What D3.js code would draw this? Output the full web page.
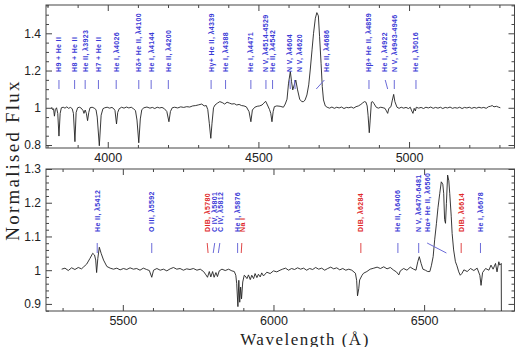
<!DOCTYPE html>
<html><head><meta charset="utf-8">
<script src="https://cdn.jsdelivr.net/npm/d3@7"></script>
<style>body{margin:0;background:#fff}svg{display:block}</style>
</head><body>
<svg id="c" width="520" height="347"></svg>
<script>
// ---------- DATA ----------
const topSpectrum = [[3814,1.003],[3817,0.99],[3820,0.995],[3823,0.955],[3826,0.99],[3830,1.0],[3834,0.97],[3838,0.848],[3842,0.97],[3846,1.0],[3852,1.003],[3858,0.998],[3864,1.005],[3870,0.997],[3876,1.002],[3882,0.995],[3886,0.97],[3891,0.818],[3895,0.975],[3900,1.0],[3906,1.003],[3912,0.998],[3918,0.985],[3921,0.97],[3925,0.988],[3929,0.97],[3933,0.931],[3937,0.975],[3941,1.0],[3948,1.003],[3955,0.998],[3961,0.99],[3965,0.95],[3972,0.796],[3978,0.96],[3984,0.995],[3990,1.0],[3998,1.003],[4006,0.998],[4014,1.002],[4020,0.995],[4024,0.985],[4029,0.913],[4033,0.975],[4038,0.995],[4046,1.003],[4054,0.998],[4062,1.004],[4070,0.999],[4078,1.003],[4086,0.994],[4092,0.985],[4097,0.934],[4103,0.812],[4108,0.94],[4113,0.99],[4120,1.0],[4130,1.004],[4140,0.998],[4148,1.002],[4156,0.996],[4164,1.003],[4172,0.999],[4180,1.002],[4188,0.995],[4196,0.98],[4203,0.925],[4208,0.98],[4214,1.0],[4222,1.003],[4232,0.999],[4242,1.005],[4252,1.002],[4262,1.006],[4272,1.004],[4282,1.01],[4292,1.012],[4302,1.016],[4312,1.02],[4320,1.01],[4327,1.012],[4332,0.99],[4337,0.917],[4342,0.836],[4346,0.917],[4351,1.0],[4356,1.015],[4364,1.025],[4372,1.033],[4380,1.028],[4388,1.02],[4396,1.03],[4404,1.025],[4412,1.02],[4420,1.022],[4428,1.015],[4436,1.018],[4444,1.012],[4452,1.01],[4460,1.005],[4469,0.979],[4475,0.925],[4480,0.988],[4488,1.003],[4496,1.008],[4504,1.01],[4512,1.015],[4518,1.025],[4524,1.035],[4530,1.015],[4537,0.99],[4541,0.97],[4545,0.925],[4549,0.98],[4553,1.006],[4561,1.01],[4572,1.008],[4583,1.003],[4589,1.02],[4595,1.046],[4600,1.132],[4606,1.195],[4610,1.14],[4614,1.096],[4619,1.123],[4624,1.149],[4630,1.096],[4637,1.046],[4644,1.033],[4650,1.033],[4655,1.042],[4661,1.069],[4667,1.123],[4672,1.203],[4678,1.311],[4683,1.40],[4689,1.481],[4694,1.511],[4699,1.494],[4703,1.382],[4708,1.239],[4712,1.114],[4716,1.042],[4722,1.010],[4728,1.003],[4736,0.998],[4744,1.004],[4752,0.997],[4760,1.003],[4768,0.999],[4776,1.004],[4784,0.996],[4792,1.002],[4800,1.0],[4808,1.004],[4816,0.998],[4824,1.006],[4832,1.01],[4840,1.018],[4846,1.026],[4852,1.033],[4857,1.03],[4861,1.01],[4864,0.96],[4868,0.866],[4871,0.934],[4875,1.03],[4879,1.033],[4883,1.024],[4891,1.003],[4898,0.998],[4906,1.003],[4914,1.0],[4920,0.997],[4925,0.983],[4929,0.970],[4933,0.997],[4940,1.006],[4944,1.037],[4949,1.072],[4953,1.033],[4960,1.003],[4967,0.997],[4974,1.003],[4982,0.998],[4990,1.002],[4998,0.996],[5004,1.003],[5009,0.983],[5013,0.970],[5017,0.997],[5021,0.983],[5024,1.003],[5032,0.998],[5040,1.002],[5048,0.996],[5056,1.003],[5064,0.999],[5072,1.004],[5080,0.997],[5088,1.002],[5096,0.998],[5104,1.003],[5112,0.996],[5120,1.002],[5128,0.999],[5136,1.004],[5144,0.997],[5152,1.001],[5160,0.998],[5168,1.003],[5176,0.996],[5184,1.002],[5192,0.999],[5200,1.003],[5208,0.997],[5216,1.002],[5224,0.998],[5232,1.003],[5240,0.999],[5248,1.002],[5256,0.997],[5264,1.006],[5270,1.008],[5276,1.012],[5282,1.005],[5290,1.008],[5296,1.004],[5303,1.0]];

const bottomSpectrum = [[5297,1.003],[5308,1.006],[5319,0.999],[5330,1.007],[5341,1.002],[5352,1.008],[5363,1.004],[5369,1.009],[5380,1.018],[5391,1.035],[5400,1.050],[5406,1.045],[5410,1.030],[5413,0.993],[5417,1.035],[5422,1.068],[5428,1.050],[5436,1.030],[5447,1.011],[5458,1.006],[5469,1.003],[5480,1.006],[5491,1.001],[5502,1.005],[5513,1.002],[5524,1.007],[5535,1.003],[5546,1.005],[5557,1.0],[5568,1.006],[5579,1.002],[5588,0.999],[5596,0.979],[5602,1.0],[5613,1.005],[5624,1.0],[5635,1.003],[5646,0.998],[5657,1.004],[5668,1.008],[5679,1.003],[5690,1.005],[5701,1.0],[5712,1.004],[5723,1.002],[5734,1.005],[5746,1.0],[5757,1.003],[5768,0.996],[5776,0.986],[5781,0.979],[5787,0.996],[5792,0.98],[5798,0.996],[5803,0.979],[5809,0.993],[5814,0.981],[5820,0.998],[5829,1.003],[5840,0.999],[5851,1.003],[5862,0.998],[5870,0.996],[5875,0.985],[5878,0.96],[5882,0.892],[5885,0.97],[5888,0.905],[5891,0.95],[5894,0.915],[5898,0.965],[5903,0.985],[5906,0.983],[5912,0.975],[5917,0.986],[5923,0.972],[5928,0.985],[5934,0.975],[5939,0.99],[5945,0.978],[5950,0.988],[5956,0.98],[5961,0.992],[5967,0.983],[5978,0.994],[5989,0.99],[6000,0.998],[6011,0.995],[6022,1.0],[6030,1.003],[6040,1.006],[6050,1.0],[6060,1.005],[6070,1.002],[6080,1.007],[6090,1.003],[6100,1.006],[6110,1.0],[6120,1.005],[6130,1.002],[6140,1.008],[6150,1.003],[6160,1.006],[6170,1.0],[6180,1.005],[6190,1.009],[6200,1.004],[6210,1.007],[6220,1.001],[6230,1.005],[6240,1.0],[6250,1.003],[6260,1.0],[6272,0.991],[6276,0.97],[6279,0.924],[6283,0.945],[6286,0.971],[6294,0.985],[6299,0.991],[6310,0.996],[6321,1.003],[6333,1.006],[6344,1.009],[6355,1.005],[6366,1.01],[6377,1.004],[6388,1.008],[6399,1.0],[6408,0.995],[6416,0.986],[6421,0.998],[6432,1.005],[6443,1.0],[6454,1.009],[6465,1.003],[6473,1.0],[6479,1.025],[6484,1.040],[6490,1.02],[6496,1.003],[6504,1.0],[6512,0.996],[6519,0.996],[6524,1.013],[6530,1.040],[6535,1.090],[6541,1.139],[6546,1.185],[6552,1.228],[6557,1.262],[6562,1.255],[6565,1.228],[6568,1.15],[6571,1.139],[6574,1.198],[6578,1.282],[6582,1.265],[6585,1.228],[6590,1.16],[6593,1.109],[6598,1.06],[6604,1.025],[6609,1.013],[6615,0.995],[6620,0.985],[6626,0.991],[6632,1.001],[6643,0.996],[6654,1.005],[6665,0.999],[6676,1.006],[6685,0.985],[6689,0.955],[6694,0.993],[6704,1.005],[6715,1.0],[6722,1.015],[6729,1.003],[6737,1.02],[6742,0.995],[6748,1.025],[6751,1.015],[6756,1.02],[6756.5,0.86]];

// line identifications: text, label wavelength, tick top / tick bottom wavelength, kind (b=blue, r=red)
const topLineNames = ["H9 + He II","H8 + He II","He II, λ3923","H7 + He II","He I, λ4026","Hδ+ He II, λ4100","He I, λ4144","He II, λ4200","Hγ+ He II, λ4339","He I, λ4388","He I, λ4471","N V, λ4514-4529","He II, λ4542","N V, λ4604","N V, λ4620","He II, λ4686","Hβ+ He II, λ4859","He I, λ4922","N V, λ4943-4946","He I, λ5016"];
const topLineLabelAt = [3838,3890,3925,3969,4028,4103,4144,4201,4343,4391,4475,4525,4547,4603,4635,4727,4867,4919,4951,5023];
const topLineTickTop = [3838,3890,3925,3969,4028,4103,4144,4201,4343,4391,4475,4525,4547,4604,4620,4719,4867,4921,4951,5023];
const topLineTickBot = [3838,3890,3925,3969,4028,4103,4144,4201,4343,4391,4475,4525,4547,4606,4622,4692,4867,4929,4951,5023];
const topLineKind = ["b","b","b","b","b","b","b","b","b","b","b","b","b","b","b","b","b","b","b","b"];

const botLineNames = ["He II, λ5412","O III, λ5592","DIB, λ5780","C IV, λ5801","C IV, λ5812","He I, λ5876","Na I","DIB, λ6284","He II, λ6406","N V, λ6470-6481","Hα+ He II, λ6560","DIB, λ6614","He I, λ6678"];
const botLineLabelAt = [5415,5596,5782,5803,5823,5881,5897,6290,6413,6482,6510,6623,6687];
const botLineTickTop = [5415,5596,5780,5805,5822,5881,5895,6290,6413,6482,6510,6623,6687];
const botLineTickBot = [5415,5596,5783,5800,5817,5881,5893,6290,6413,6482,6574,6623,6687];
const botLineKind = ["b","b","r","b","b","b","r","r","b","b","b","r","b"];

const topXTicks = [4000,4500,5000];
const botXTicks = [5500,6000,6500];
const topYTicks = [0.8,1.0,1.2,1.4];
const botYTicks = [0.9,1.0,1.1,1.2,1.3];
const xTitle = "Wavelength (Å)";
const yTitle = "Normalised Flux";

// ---------- DRAW ----------
const svg = d3.select("#c");
const L = 46, R = 514.5;
const colors = {b:"#3a3ad6", r:"#e02828"};
const tickColors = {b:"#6b6bd8", r:"#e04848"};
const fmtY = d => (Math.abs(d-1)<1e-9 ? "1" : d3.format(".1f")(d));
const fmtX = d3.format("d");

function panel(cfg){
  const x = d3.scaleLinear().domain(cfg.xDomain).range([L,R]);
  const y = d3.scaleLinear().domain(cfg.yDomain).range([cfg.y1,cfg.y0]);
  const g = svg.append("g");
  const id = "clip"+cfg.name;
  svg.append("clipPath").attr("id",id).append("rect")
    .attr("x",L).attr("y",cfg.y0).attr("width",R-L).attr("height",cfg.y1-cfg.y0);

  const xMinor = d3.range(Math.ceil(cfg.xDomain[0]/100)*100, cfg.xDomain[1], 100).filter(v=>v%500!==0);
  const yMinor = d3.range(Math.ceil(cfg.yDomain[0]/cfg.yMinor-1e-6)*cfg.yMinor, cfg.yDomain[1]+1e-9, cfg.yMinor)
                   .map(v=>+v.toFixed(3)).filter(v=>!cfg.yTicks.some(t=>Math.abs(t-v)<1e-6));
  const strip = s => s.call(a=>a.select(".domain").remove()).selectAll("line").attr("stroke","#444").attr("stroke-width",1);

  g.append("g").attr("transform",`translate(0,${cfg.y1})`).call(d3.axisBottom(x).tickValues(cfg.xTicks).tickSize(-6).tickFormat("")).call(strip);
  g.append("g").attr("transform",`translate(0,${cfg.y1})`).call(d3.axisBottom(x).tickValues(xMinor).tickSize(-3).tickFormat("")).call(strip);
  g.append("g").attr("transform",`translate(0,${cfg.y0})`).call(d3.axisTop(x).tickValues(cfg.xTicks).tickSize(-6).tickFormat("")).call(strip);
  g.append("g").attr("transform",`translate(0,${cfg.y0})`).call(d3.axisTop(x).tickValues(xMinor).tickSize(-3).tickFormat("")).call(strip);
  g.append("g").attr("transform",`translate(${L},0)`).call(d3.axisLeft(y).tickValues(cfg.yTicks).tickSize(-6).tickFormat("")).call(strip);
  g.append("g").attr("transform",`translate(${L},0)`).call(d3.axisLeft(y).tickValues(yMinor).tickSize(-3).tickFormat("")).call(strip);
  g.append("g").attr("transform",`translate(${R},0)`).call(d3.axisRight(y).tickValues(cfg.yTicks).tickSize(-6).tickFormat("")).call(strip);
  g.append("g").attr("transform",`translate(${R},0)`).call(d3.axisRight(y).tickValues(yMinor).tickSize(-3).tickFormat("")).call(strip);

  // tick labels
  const xl = g.append("g").attr("transform",`translate(0,${cfg.y1})`)
    .call(d3.axisBottom(x).tickValues(cfg.xTicks).tickSize(0).tickPadding(5.5).tickFormat(fmtX));
  xl.select(".domain").remove();
  xl.selectAll("text").attr("font-family","'Liberation Sans',Arial,sans-serif").attr("font-size",12.5).attr("fill","#222");
  const yl = g.append("g").attr("transform",`translate(${L},0)`)
    .call(d3.axisLeft(y).tickValues(cfg.yTicks).tickSize(0).tickPadding(5).tickFormat(fmtY));
  yl.select(".domain").remove();
  yl.selectAll("text").attr("font-family","'Liberation Sans',Arial,sans-serif").attr("font-size",12).attr("fill","#222");

  // frame
  g.append("rect").attr("x",L).attr("y",cfg.y0).attr("width",R-L).attr("height",cfg.y1-cfg.y0)
    .attr("fill","none").attr("stroke","#444").attr("stroke-width",1);

  // spectrum
  g.append("path").datum(cfg.spectrum).attr("clip-path",`url(#${id})`)
    .attr("d", d3.line().x(d=>x(d[0])).y(d=>y(d[1])))
    .attr("fill","none").attr("stroke","#222").attr("stroke-width",0.9).attr("stroke-linejoin","round");

  // line identifications
  const ids = cfg.names.map((n,i)=>({n, at:cfg.labelAt[i], t:cfg.tickTop[i], b:cfg.tickBot[i], k:cfg.kind[i]}));
  g.selectAll(".idt").data(ids).enter().append("line")
    .attr("x1",d=>x(d.t)).attr("y1",cfg.tickY0).attr("x2",d=>x(d.b)).attr("y2",cfg.tickY1)
    .attr("stroke",d=>tickColors[d.k]).attr("stroke-width",1);
  g.selectAll(".idl").data(ids).enter().append("text")
    .attr("transform",d=>`translate(${x(d.at)},${cfg.textY}) rotate(-90)`)
    .attr("dy","0.35em")
    .attr("font-family","'Liberation Sans',Arial,sans-serif").attr("font-size",7)
    .attr("font-weight","bold").attr("letter-spacing",0.35)
    .attr("fill",d=>colors[d.k]).text(d=>d.n);
}

panel({name:"t", xDomain:[3795,5350], yDomain:[0.784,1.552], y0:5, y1:148,
  xTicks:topXTicks, yTicks:topYTicks, yMinor:0.05, spectrum:topSpectrum,
  names:topLineNames, labelAt:topLineLabelAt, tickTop:topLineTickTop, tickBot:topLineTickBot, kind:topLineKind,
  textY:72, tickY0:80, tickY1:89});
panel({name:"b", xDomain:[5245,6800], yDomain:[0.879,1.3], y0:169, y1:311,
  xTicks:botXTicks, yTicks:botYTicks, yMinor:0.02, spectrum:bottomSpectrum,
  names:botLineNames, labelAt:botLineLabelAt, tickTop:botLineTickTop, tickBot:botLineTickBot, kind:botLineKind,
  textY:232, tickY0:243, tickY1:253});

svg.append("text").attr("x",305).attr("y",344.5).attr("text-anchor","middle")
  .attr("font-family","'Liberation Serif','Times New Roman',serif").attr("font-size",17).attr("letter-spacing",1.5)
  .attr("fill","#222").text(xTitle);
svg.append("text").attr("transform","translate(19,160) rotate(-90)").attr("text-anchor","middle")
  .attr("font-family","'Liberation Serif','Times New Roman',serif").attr("font-size",19).attr("letter-spacing",2.2)
  .attr("fill","#222").text(yTitle);
</script>
</body></html>
